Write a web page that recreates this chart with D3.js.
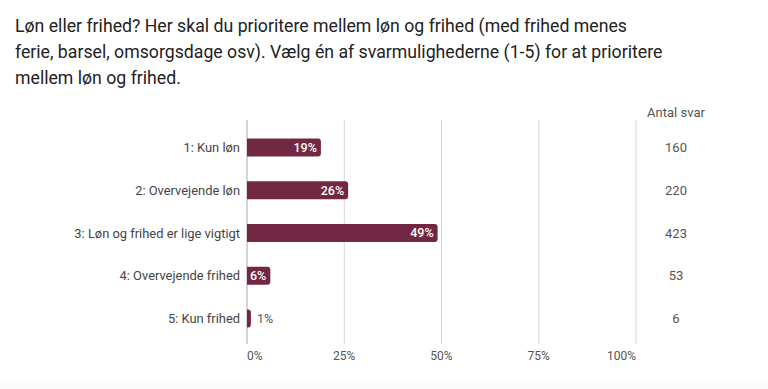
<!DOCTYPE html>
<html>
<head>
<meta charset="utf-8">
<script src="https://cdn.jsdelivr.net/npm/d3@7"></script>
<style>
  body { margin: 0; background: #fff; font-family: Roboto, "Noto Sans", sans-serif; }
</style>
</head>
<body>
<div id="chart"></div>
<script>
// data
const categories = ["1: Kun løn", "2: Overvejende løn", "3: Løn og frihed er lige vigtigt", "4: Overvejende frihed", "5: Kun frihed"];
const shares = [19, 26, 49, 6, 1];
const counts = [160, 220, 423, 53, 6];
const ticks = [0, 25, 50, 75, 100];
const titleLines = [
  "Løn eller frihed? Her skal du prioritere mellem løn og frihed (med frihed menes",
  "ferie, barsel, omsorgsdage osv). Vælg én af svarmulighederne (1-5) for at prioritere",
  "mellem løn og frihed."
];

const W = 768, H = 389;
const svg = d3.select("#chart").append("svg")
  .attr("width", W).attr("height", H);

svg.append("rect").attr("x", 0).attr("y", 380).attr("width", W).attr("height", 9).attr("fill", "#fbfbfb");

// title
svg.append("g").selectAll("text")
  .data(titleLines)
  .join("text")
    .attr("x", 15)
    .attr("y", (d, i) => 32 + i * 26)
    .attr("font-size", 17.7)
    .attr("fill", "#222")
    .text(d => d);

const x = d3.scaleLinear().domain([0, 100]).range([247, 636]);
const y = d3.scaleBand().domain(categories).range([126, 340])
  .paddingInner(0.58).paddingOuter(0.29);

// grid
svg.append("g").selectAll("line")
  .data(ticks)
  .join("line")
    .attr("x1", d => x(d)).attr("x2", d => x(d))
    .attr("y1", 120).attr("y2", 344)
    .attr("stroke", d => d === 0 ? "#aaa" : "#d6d6d6")
    .attr("stroke-width", 1);

// tick labels
svg.append("g").selectAll("text")
  .data(ticks)
  .join("text")
    .attr("x", d => x(d))
    .attr("y", 360)
    .attr("text-anchor", (d, i) => i === 0 ? "start" : i === ticks.length - 1 ? "end" : "middle")
    .attr("font-size", 12)
    .attr("fill", "#555")
    .text(d => d + "%");

// category labels
svg.append("g").selectAll("text")
  .data(categories)
  .join("text")
    .attr("x", 240)
    .attr("y", d => y(d) + y.bandwidth() / 2)
    .attr("dy", "0.35em")
    .attr("text-anchor", "end")
    .attr("font-size", 12.9)
    .attr("fill", "#444")
    .text(d => d);

// bars with rounded right end
const r = 3;
function barPath(x0, x1, y0, h) {
  const rr = Math.min(r, (x1 - x0));
  return `M${x0},${y0}H${x1 - rr}Q${x1},${y0} ${x1},${y0 + rr}V${y0 + h - rr}Q${x1},${y0 + h} ${x1 - rr},${y0 + h}H${x0}Z`;
}
svg.append("g").selectAll("path")
  .data(categories)
  .join("path")
    .attr("d", (d, i) => barPath(x(0), x(shares[i]), y(d), y.bandwidth()))
    .attr("fill", "#722843");

// value labels
svg.append("g").selectAll("text")
  .data(categories)
  .join("text")
    .attr("x", (d, i) => shares[i] >= 5 ? x(shares[i]) - 4 : x(shares[i]) + 6)
    .attr("y", d => y(d) + y.bandwidth() / 2)
    .attr("dy", "0.35em")
    .attr("text-anchor", (d, i) => shares[i] >= 5 ? "end" : "start")
    .attr("font-size", 12.5)
    .attr("font-weight", (d, i) => shares[i] >= 5 ? 500 : 400)
    .attr("fill", (d, i) => shares[i] >= 5 ? "#fff" : "#555")
    .text((d, i) => shares[i] + "%");

// counts column
svg.append("text")
  .attr("x", 676).attr("y", 117)
  .attr("text-anchor", "middle")
  .attr("font-size", 13)
  .attr("fill", "#555")
  .text("Antal svar");

svg.append("g").selectAll("text")
  .data(categories)
  .join("text")
    .attr("x", 676)
    .attr("y", d => y(d) + y.bandwidth() / 2)
    .attr("dy", "0.35em")
    .attr("text-anchor", "middle")
    .attr("font-size", 13)
    .attr("fill", "#555")
    .text((d, i) => counts[i]);
</script>
</body>
</html>
